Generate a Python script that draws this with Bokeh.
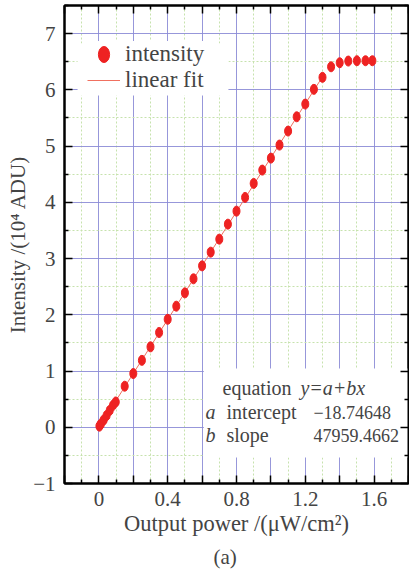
from bokeh.plotting import figure
from bokeh.models import (FixedTicker, LinearAxis, Range1d, Legend, LegendItem,
                          Label, BoxAnnotation, ColumnDataSource, Title)
from bokeh.embed import file_html
from bokeh.resources import INLINE

# ---- data (intensity in 10^4 ADU, power in uW/cm^2) ----
power = [0.003, 0.012, 0.028, 0.045, 0.063, 0.082, 0.098,
         0.15, 0.20, 0.25, 0.30, 0.35, 0.40, 0.45, 0.50, 0.55, 0.60,
         0.65, 0.70, 0.75, 0.80, 0.85, 0.90, 0.95, 1.00, 1.05, 1.10,
         1.15, 1.20, 1.25, 1.30, 1.35, 1.40, 1.45, 1.50, 1.55, 1.59]
intensity = [0.02, 0.06, 0.13, 0.21, 0.30, 0.39, 0.45,
             0.73, 0.955, 1.19, 1.43, 1.685, 1.92, 2.153, 2.39, 2.64, 2.87,
             3.114, 3.345, 3.612, 3.843, 4.087, 4.336, 4.573, 4.786, 5.018, 5.267,
             5.521, 5.747, 6.009, 6.222, 6.41, 6.482, 6.512, 6.518, 6.518, 6.518]
fit_intercept = -18.74648
fit_slope = 47959.4662
fit_range = [0.0, 1.30]

x_ticks = [-0.2, 0.0, 0.2, 0.4, 0.6, 0.8, 1.0, 1.2, 1.4, 1.6, 1.8]
x_tick_labels = ["", "0", "", "0.4", "", "0.8", "", "1.2", "", "1.6", ""]
x_minor = [-0.1, 0.1, 0.3, 0.5, 0.7, 0.9, 1.1, 1.3, 1.5, 1.7]
y_ticks = [-1, 0, 1, 2, 3, 4, 5, 6, 7]
y_tick_labels = ["\u22121", "0", "1", "2", "3", "4", "5", "6", "7"]
y_minor = [-0.5, 0.5, 1.5, 2.5, 3.5, 4.5, 5.5, 6.5, 7.5]

FONT = "Liberation Serif"
FS = "21px"

fit_y = [(fit_intercept + fit_slope * v) / 1e4 for v in fit_range]

p = figure(width=409, height=574, output_backend="svg", toolbar_location=None,
           x_range=Range1d(-0.2, 1.8), y_range=Range1d(-1, 7.5),
           min_border_left=64, min_border_right=1, min_border_top=5,
           min_border_bottom=91, background_fill_color="white",
           border_fill_color="white")
p.outline_line_color = "black"
p.outline_line_width = 2

xt = FixedTicker(ticks=x_ticks, minor_ticks=x_minor)
yt = FixedTicker(ticks=y_ticks, minor_ticks=y_minor)

xax = p.xaxis[0]
yax = p.yaxis[0]
xax.ticker = xt
yax.ticker = yt
xax.major_label_overrides = dict(zip(x_ticks, x_tick_labels))
yax.major_label_overrides = dict(zip(y_ticks, y_tick_labels))
xax.axis_label = "Output power /(\u03bcW/cm\u00b2)"
yax.axis_label = "Intensity /(10\u2074 ADU)"

for ax in (xax, yax):
    ax.axis_label_text_font = FONT
    ax.axis_label_text_font_style = "normal"
    ax.major_label_text_font = FONT
    ax.major_label_text_font_size = FS
xax.axis_label_text_font_size = "22.5px"
yax.axis_label_text_font_size = "21px"
xax.major_label_standoff = 8
xax.axis_label_standoff = 2
yax.major_label_standoff = 9
yax.axis_label_standoff = 0

top = LinearAxis(ticker=xt, major_label_overrides={t: "" for t in x_ticks},
                 major_label_text_font_size="1px", major_label_standoff=0)
right = LinearAxis(ticker=yt, major_label_overrides={t: "" for t in y_ticks},
                   major_label_text_font_size="1px", major_label_standoff=0)
p.add_layout(top, "above")
p.add_layout(right, "right")

for ax in (xax, yax, top, right):
    ax.axis_line_color = "black"
    ax.axis_line_width = 2
    ax.major_tick_in = 8
    ax.major_tick_out = 0
    ax.minor_tick_in = 4
    ax.minor_tick_out = 0
    ax.major_tick_line_width = 1.5
    ax.minor_tick_line_width = 1.5
    ax.major_tick_line_color = "black"
    ax.minor_tick_line_color = "black"

for g in (p.xgrid[0], p.ygrid[0]):
    g.grid_line_color = "#8c8cd6"
    g.grid_line_width = 1
    g.grid_line_alpha = 0.9
    g.minor_grid_line_color = "#c6e2ad"
    g.minor_grid_line_dash = "2 2"
    g.minor_grid_line_width = 1

# white panels behind the legend and the equation text
for l, r, t, b in ((-0.124, 0.753, 6.824, 5.9), (0.61, None, 1.045, -0.537)):
    p.add_layout(BoxAnnotation(left=l, right=r, top=t, bottom=b,
                               fill_color="white", fill_alpha=1.0,
                               line_color=None, level="glyph"))

src = ColumnDataSource(dict(x=power, y=intensity))
line_r = p.line(fit_range, fit_y, line_color="#f07060", line_width=1)
pts = p.ellipse(x="x", y="y", width=7, height=10, width_units="screen",
                height_units="screen", fill_color="#ee2222", line_color="#ee2222",
                source=src)

legend = Legend(items=[LegendItem(label="intensity", renderers=[pts]),
                       LegendItem(label="linear fit", renderers=[line_r])],
                location=(23, 390), border_line_color=None,
                background_fill_color="white", background_fill_alpha=1.0,
                label_text_font=FONT, label_text_font_size="23px",
                glyph_width=33, glyph_height=20, label_height=20,
                label_standoff=5, spacing=0, padding=10, margin=0)
p.add_layout(legend)


def lab(x, y, t, style="normal", size="20px"):
    p.add_layout(Label(x=x, y=y, text=t, text_font=FONT, text_font_size=size,
                       text_font_style=style, text_baseline="middle",
                       text_align="left"))


lab(0.719, 0.69, "equation")
lab(1.172, 0.69, "y=a+bx", "italic")
lab(0.62, 0.263, "a", "italic")
lab(0.742, 0.263, "intercept")
lab(1.247, 0.263, "\u221218.74648", size="18px")
lab(0.62, -0.146, "b", "italic")
lab(0.742, -0.146, "slope")
lab(1.247, -0.146, "47959.4662", size="18px")

p.add_layout(Title(text="(a)", align="left", text_font=FONT,
                   text_font_size=FS, text_font_style="normal",
                   standoff=9, offset=149), "below")

open("out.html", "w").write(file_html(p, INLINE))
